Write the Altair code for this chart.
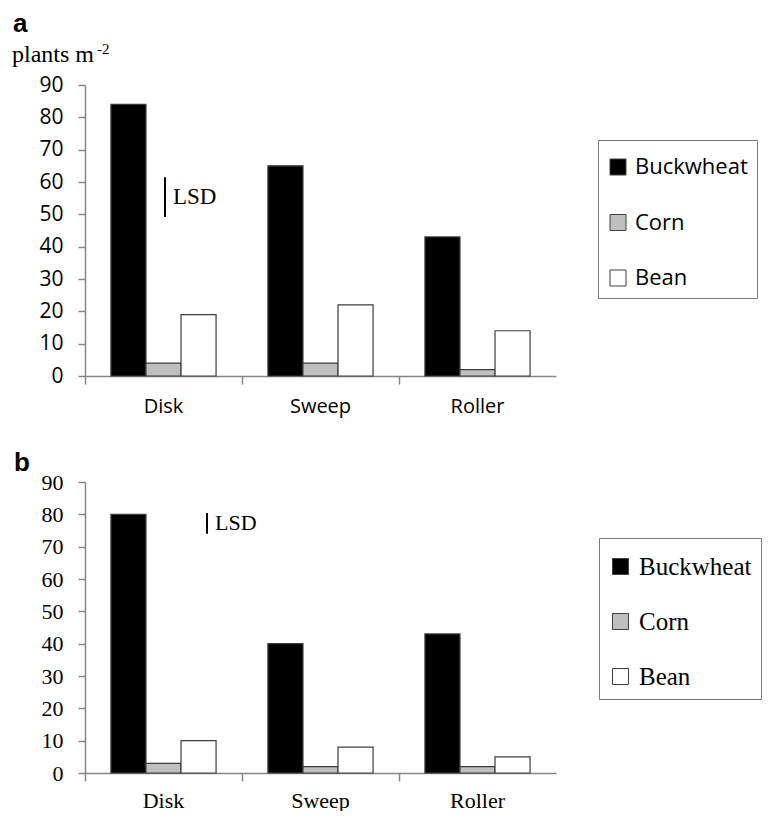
import altair as alt
import pandas as pd

methods = ["Disk", "Sweep", "Roller"]
crops = ["Buckwheat", "Corn", "Bean"]
crop_colors = ["#000000", "#BFBFBF", "#FFFFFF"]

a_buckwheat = [84, 65, 43]
a_corn = [4, 4, 2]
a_bean = [19, 22, 14]

b_buckwheat = [80, 40, 43]
b_corn = [3, 2, 2]
b_bean = [10, 8, 5]

y_ticks = [0, 10, 20, 30, 40, 50, 60, 70, 80, 90]
lsd_a = [49.2, 61.5]
lsd_b = [74.0, 80.4]

SANS = "Open Sans"
SERIF = "Liberation Serif"
BOLD = "Liberation Sans"
GRAY = "#868686"
W, H = 471, 291


def make_df(bw, co, be):
    rows = []
    for i, m in enumerate(methods):
        for c, vals in zip(crops, [bw, co, be]):
            rows.append({"method": m, "crop": c, "value": vals[i]})
    return pd.DataFrame(rows)


def panel(df, lsd, label, label_x, label_y, font, xfs, yfs, xpad, lfs, lsd_x,
          lsd_fs, leg_x, leg_y, leg_pad, leg_row, with_unit):
    yscale = alt.Scale(domain=[0, 90], nice=False)
    yaxis = alt.Axis(title=None, values=y_ticks, grid=False, labelOverlap=False,
                     tickSize=7, tickColor=GRAY, tickWidth=1.5,
                     domainColor=GRAY, domainWidth=1.5,
                     labelFont=font, labelFontSize=yfs,
                     labelColor="black", labelPadding=15)
    bars = alt.Chart(df).mark_bar(stroke="#3c3c3c", strokeWidth=1.2).encode(
        x=alt.X("method:N", sort=methods,
                scale=alt.Scale(paddingInner=0, paddingOuter=0),
                axis=alt.Axis(title=None, labelAngle=0, bandPosition=0,
                              ticks=True, tickSize=8, tickColor=GRAY,
                              tickWidth=1.5, domainColor=GRAY, domainWidth=1.5,
                              labelFont=font, labelFontSize=xfs,
                              labelColor="black", labelPadding=xpad,
                              grid=False)),
        xOffset=alt.XOffset("crop:N", sort=crops,
                            scale=alt.Scale(paddingInner=0, paddingOuter=0.74)),
        y=alt.Y("value:Q", scale=yscale, axis=yaxis),
        fill=alt.Fill("crop:N", sort=crops,
                      scale=alt.Scale(domain=crops, range=crop_colors),
                      legend=alt.Legend(title=" ", titleFontSize=3,
                                        titlePadding=4,
                                        orient="none",
                                        legendX=leg_x, legendY=leg_y,
                                        symbolType="square", symbolSize=256,
                                        symbolStrokeColor="#404040",
                                        symbolStrokeWidth=1,
                                        labelFont=font, labelFontSize=lfs,
                                        labelColor="black", labelOffset=6,
                                        strokeColor="#7a7a7a",
                                        fillColor="white",
                                        padding=leg_pad, rowPadding=leg_row)),
    )
    lsd_df = pd.DataFrame({"lo": [lsd[0]], "hi": [lsd[1]],
                           "mid": [(lsd[0] + lsd[1]) / 2], "t": ["LSD"]})
    rule = alt.Chart(lsd_df).mark_rule(color="black", strokeWidth=2).encode(
        x=alt.value(lsd_x),
        y=alt.Y("lo:Q", scale=yscale, axis=yaxis),
        y2="hi:Q",
    )
    lsd_text = alt.Chart(lsd_df).mark_text(
        font=SERIF, fontSize=lsd_fs, align="left", baseline="middle",
        color="black").encode(
        x=alt.value(lsd_x + 8),
        y=alt.Y("mid:Q", scale=yscale, axis=yaxis),
        text="t:N",
    )
    lab = alt.Chart(pd.DataFrame({"t": [label]})).mark_text(
        font=BOLD, fontWeight="bold", fontSize=26, align="left",
        baseline="middle", color="black").encode(
        x=alt.value(label_x), y=alt.value(label_y),
        text="t:N")
    layers = [bars, rule, lsd_text, lab]
    if with_unit:
        unit = alt.Chart(pd.DataFrame({"t": ["plants m"]})).mark_text(
            font=SERIF, fontSize=24, align="left", baseline="alphabetic",
            color="black").encode(x=alt.value(-73), y=alt.value(-23),
                                  text="t:N")
        sup = alt.Chart(pd.DataFrame({"t": ["-2"]})).mark_text(
            font=SERIF, fontSize=15, align="left", baseline="alphabetic",
            color="black").encode(x=alt.value(12), y=alt.value(-31),
                                  text="t:N")
        layers += [unit, sup]
    return alt.layer(*layers).properties(width=W, height=H)


pa = panel(make_df(a_buckwheat, a_corn, a_bean), lsd_a, "a", -72, -61, SANS,
           20, 21, 12, 22, 80, 23, 513, 55, 9, 33.5, True)
pb = panel(make_df(b_buckwheat, b_corn, b_bean), lsd_b, "b", -71, -19, SERIF,
           22, 22, 9, 25, 122, 22, 514, 56, 9, 29, False)

chart = alt.vconcat(pa, pb, spacing=34).resolve_scale(
    fill="independent", y="independent", x="independent",
    xOffset="independent").properties(
    padding={"left": 4, "top": 3, "right": 0, "bottom": 0}
).configure_view(strokeWidth=0)

chart.save("out.html", embed_options={"renderer": "svg", "actions": False})
